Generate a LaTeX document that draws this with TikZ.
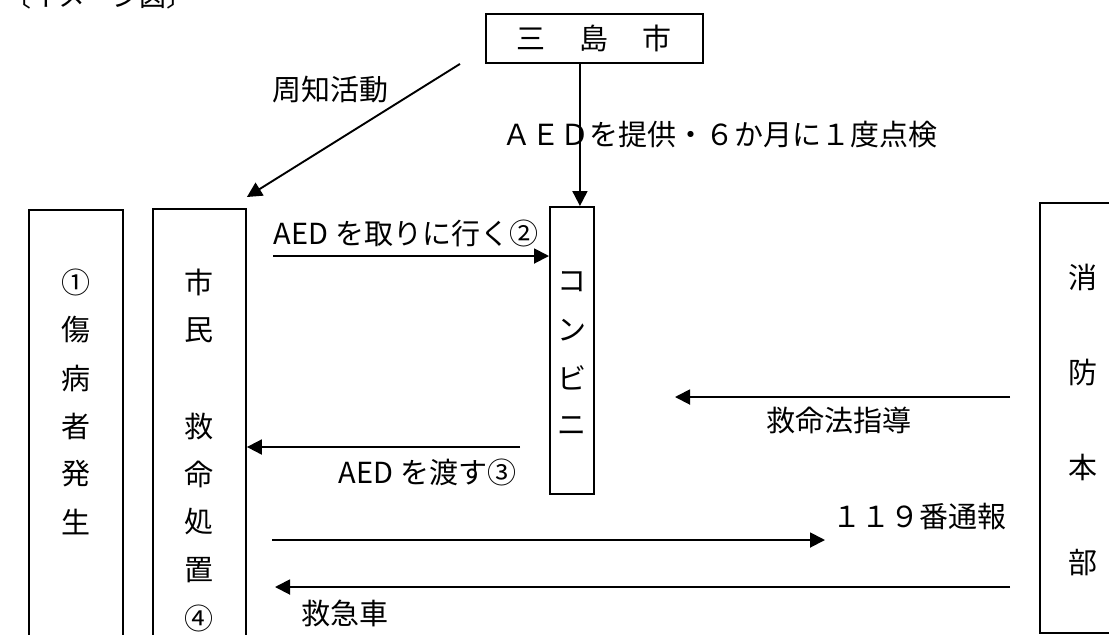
\documentclass[tikz,border=0pt]{standalone}
\usepackage{fontspec}
\newfontfamily\jpfont{Noto Sans CJK JP}
\usetikzlibrary{arrows.meta, positioning}

\begin{document}
\begin{tikzpicture}[x=0.5pt, y=-0.5pt, line width=0.95pt,
	every node/.style={font=\jpfont\fontsize{14.5pt}{17pt}\selectfont, inner sep=0pt},
	box/.style={draw, rectangle, anchor=north west},
	arr/.style={-{Triangle[length=7.5pt,width=7.5pt]}}]
	\useasboundingbox (0,0) rectangle (1109,634);
	\node (caption) [anchor=base west, font=\jpfont\fontsize{13.5pt}{16pt}\selectfont] at (4,6) {〔イメージ図〕};
	% boxes
	\node (mishima) [box, minimum width=108.5pt, minimum height=24.5pt] at (485,13) {};
	\node (injured) [box, minimum width=47pt, minimum height=226pt] at (28,209) {};
	\node (shimin) [box, minimum width=46.5pt, minimum height=226pt] at (152,208) {};
	\node (conv) [box, minimum width=22pt, minimum height=143.5pt] at (549,206) {};
	\node (fire) [box, minimum width=43pt, minimum height=215pt] at (1039,202) {};
	\node (mishimatext) at (mishima.center) {三\hspace{17pt}島\hspace{17pt}市};
	% vertical texts
	\foreach \y/\c in {282/①,330/傷,378/病,426/者,474/発,522/生}
		\node (inj\y) at (injured.north |- 0,\y) {\c};
	\foreach \y/\c in {282/市,330/民,426/救,474/命,522/処,570/置,618/④}
		\node (shi\y) at (shimin.north |- 0,\y) {\c};
	\foreach \y/\c in {282/コ,330/ン,378/ビ,426/ニ}
		\node (conv\y) at (conv.north |- 0,\y) {\c};
	\foreach \y/\c in {277/消,372/防,467/本,563/部}
		\node (fire\y) at (fire.north |- 0,\y) {\c};
	% connectors
	\draw[arr] ([xshift=4pt]conv.north |- mishima.south) -- ([xshift=4pt]conv.north);
	\draw[arr] ([xshift=-12.5pt]mishima.south west) -- ([yshift=5.5pt]shimin.north east);
	\coordinate (goS) at (273,256);
	\draw[arr] (goS) -- (goS -| conv.west);
	\coordinate (giveS) at (520,447);
	\draw[arr] (giveS) -- (giveS -| shimin.east);
	\coordinate (teachS) at (1010,397);
	\coordinate (teachE) at (675,397);
	\coordinate (callS) at (272,540);
	\coordinate (callE) at (825,540);
	\coordinate (ambS) at (1010,587);
	\coordinate (ambE) at (275,587);
	\foreach \a/\b in {teachS/teachE, callS/callE, ambS/ambE} {\draw[arr] (\a) -- (\b);}
	% labels
	\node (notice) at (330,90) {周知活動};
	\node (supply) at (720,135) {ＡＥＤを提供・６か月に１度点検};
	\node (fetch) [anchor=west] at (273,233) {AED を取りに行く②};
	\node (hand) [anchor=east] at (517,472) {AED を渡す③};
	\node (teach) at (839,420) {救命法指導};
	\node (call) [anchor=west] at (832,517) {１１９番通報};
	\node (amb) at (345,613) {救急車};
\end{tikzpicture}
\end{document}
